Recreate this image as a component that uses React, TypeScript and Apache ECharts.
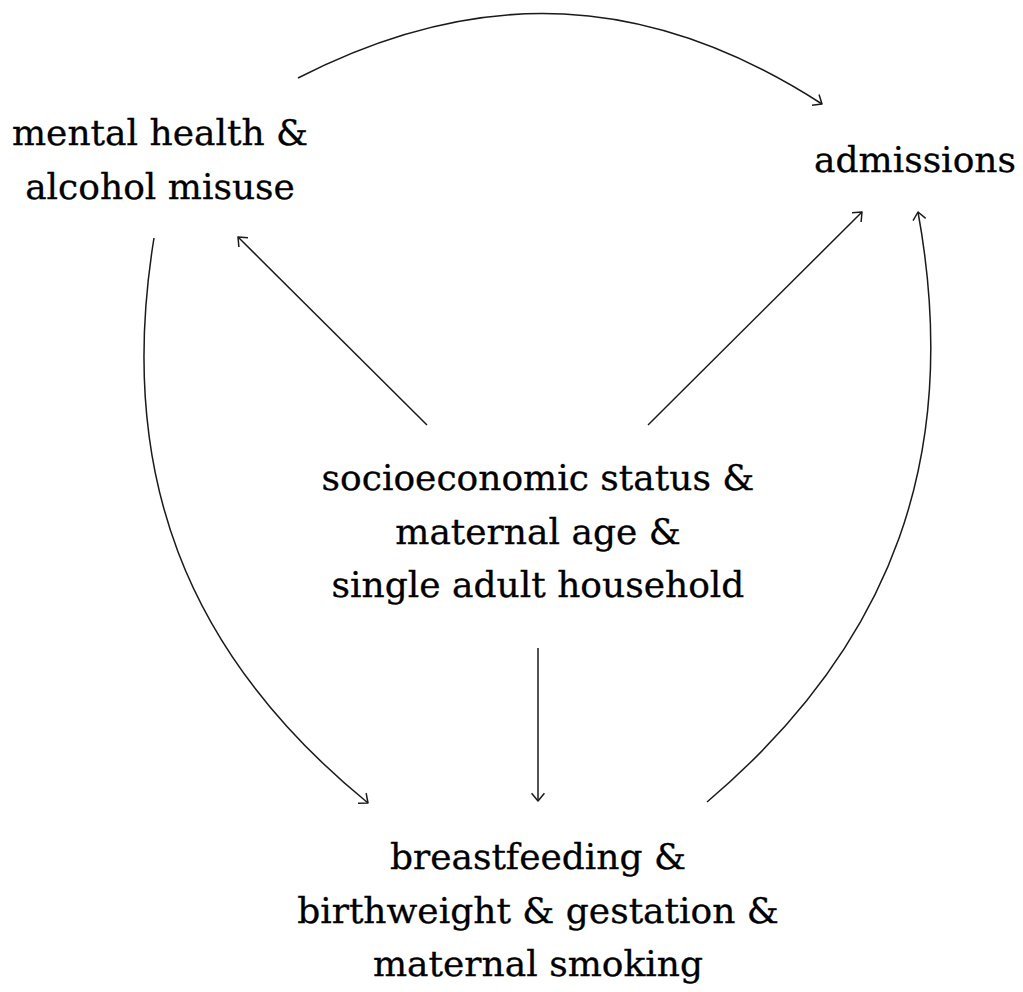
import React, { useEffect, useRef } from "react";
import * as echarts from "echarts";

// Diagram nodes: label text and centre position (pixel-like data units)
const nodeLabels = [
  "mental health &\nalcohol misuse",
  "admissions",
  "socioeconomic status &\nmaternal age &\nsingle adult household",
  "breastfeeding &\nbirthweight & gestation &\nmaternal smoking",
];
const nodeX = [160, 915, 538, 538];
const nodeY = [159.5, 159.5, 531, 910];

// Edges: start point, arrow tip, bend angle (degrees, 0 = straight)
const edgeStartX = [298, 427, 648, 538, 154, 707];
const edgeStartY = [78, 425, 425, 648, 238, 802];
const edgeEndX = [822, 238, 862, 538, 368, 918];
const edgeEndY = [104, 237, 212, 801, 803, 212];
const edgeBend = [-30, 0, 0, 0, 30, 30];

const W = 1023;
const H = 992;

export default function App() {
  const ref = useRef<HTMLDivElement>(null);
  useEffect(() => {
    if (!ref.current) return;
    const chart = echarts.init(ref.current, null, { renderer: "svg" });
    const edgeData = edgeStartX.map((_, i) => [
      edgeStartX[i],
      edgeStartY[i],
      edgeEndX[i],
      edgeEndY[i],
      edgeBend[i],
    ]);
    const stroke = "#1a1a1a";
    const lw = 1.5;
    chart.setOption({
      animation: false,
      backgroundColor: "#ffffff",
      grid: { left: 0, right: 0, top: 0, bottom: 0 },
      xAxis: { type: "value", min: 0, max: W, show: false },
      yAxis: { type: "value", min: 0, max: H, inverse: true, show: false },
      series: [
        {
          type: "custom",
          coordinateSystem: "cartesian2d",
          data: edgeData,
          silent: true,
          renderItem: (params: any, api: any) => {
            const p0 = api.coord([api.value(0), api.value(1)]);
            const p2 = api.coord([api.value(2), api.value(3)]);
            const bend = (api.value(4) * Math.PI) / 180;
            const dx = p2[0] - p0[0];
            const dy = p2[1] - p0[1];
            const L = Math.sqrt(dx * dx + dy * dy);
            const ang = Math.atan2(dy, dx);
            const k = 0.3915 * L;
            let back: number;
            const children: any[] = [];
            if (bend === 0) {
              children.push({
                type: "line",
                shape: { x1: p0[0], y1: p0[1], x2: p2[0], y2: p2[1] },
                style: { stroke, lineWidth: lw, fill: null },
              });
              back = ang + Math.PI;
            } else {
              const a1 = ang + bend;
              const a2 = ang + Math.PI - bend;
              const c1 = [p0[0] + k * Math.cos(a1), p0[1] + k * Math.sin(a1)];
              const c2 = [p2[0] + k * Math.cos(a2), p2[1] + k * Math.sin(a2)];
              children.push({
                type: "bezierCurve",
                shape: {
                  x1: p0[0],
                  y1: p0[1],
                  x2: p2[0],
                  y2: p2[1],
                  cpx1: c1[0],
                  cpy1: c1[1],
                  cpx2: c2[0],
                  cpy2: c2[1],
                },
                style: { stroke, lineWidth: lw, fill: null },
              });
              back = a2;
            }
            const arm = 10;
            const spread = (40 * Math.PI) / 180;
            children.push({
              type: "polyline",
              shape: {
                points: [
                  [p2[0] + arm * Math.cos(back + spread), p2[1] + arm * Math.sin(back + spread)],
                  [p2[0], p2[1]],
                  [p2[0] + arm * Math.cos(back - spread), p2[1] + arm * Math.sin(back - spread)],
                ],
              },
              style: { stroke, lineWidth: lw, fill: null, lineJoin: "round" },
            });
            return { type: "group", children };
          },
        },
        {
          type: "scatter",
          symbolSize: 0,
          silent: true,
          itemStyle: { opacity: 1 },
          data: nodeLabels.map((t, i) => ({ name: t, value: [nodeX[i], nodeY[i]] })),
          label: {
            show: true,
            position: "inside",
            formatter: (p: any) => p.name,
            fontFamily: "DejaVu Serif",
            fontSize: 36,
            lineHeight: 53.5,
            color: "#000000",
            textBorderColor: "#000000",
            textBorderWidth: 0.3,
            align: "center",
            verticalAlign: "middle",
          },
        },
      ],
    });
    return () => chart.dispose();
  }, []);
  return (
    <div
      ref={ref}
      style={{ position: "absolute", left: 0, top: 0, width: W, height: H }}
    />
  );
}
